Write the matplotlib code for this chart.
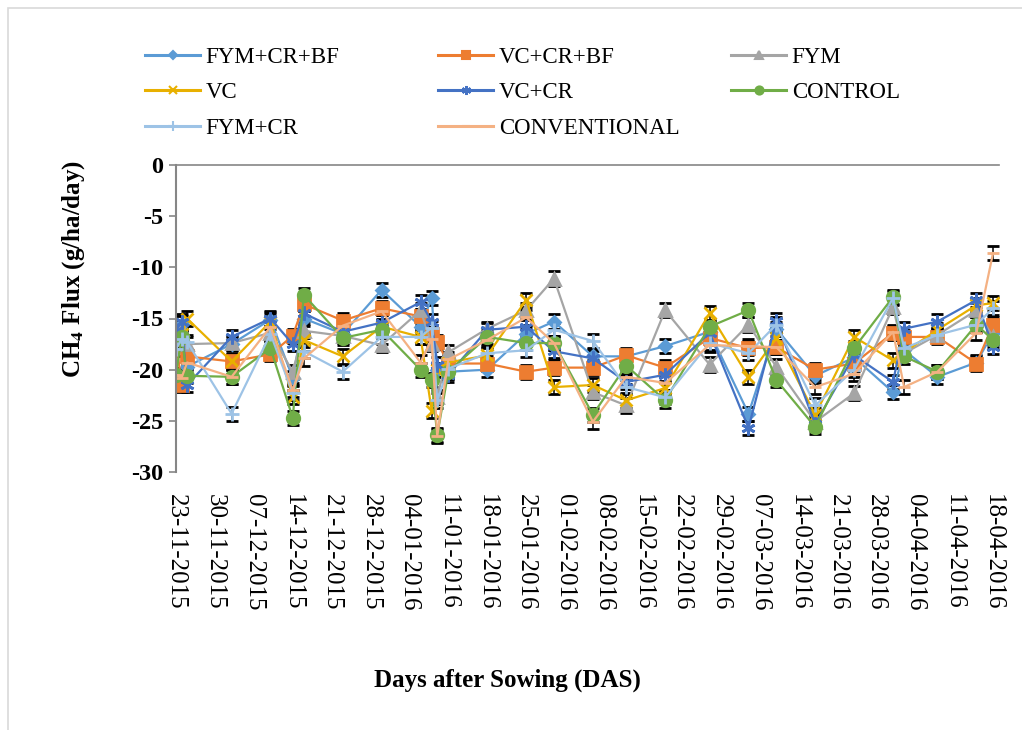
import numpy as np
import pandas as pd
import matplotlib
matplotlib.use('Agg')
import matplotlib.pyplot as plt
import matplotlib.dates as mdates
from matplotlib.lines import Line2D
from matplotlib.patches import Rectangle

# sampling dates
sample_dates = ['2015-11-23', '2015-11-24', '2015-11-25', '2015-12-03', '2015-12-10',
                '2015-12-14', '2015-12-16', '2015-12-23', '2015-12-30', '2016-01-06',
                '2016-01-08', '2016-01-09', '2016-01-11', '2016-01-18', '2016-01-25',
                '2016-01-30', '2016-02-06', '2016-02-12', '2016-02-19', '2016-02-27',
                '2016-03-05', '2016-03-10', '2016-03-17', '2016-03-24', '2016-03-31',
                '2016-04-02', '2016-04-08', '2016-04-15', '2016-04-18']

# CH4 flux (g/ha/day) per treatment
fym_cr_bf = [-16.5, -15.5, -19.7, -17.5, -15.1, -20.8, -15.0, -16.5, -12.2, -15.8,
             -13.0, -20.0, -20.2, -20.0, -16.5, -15.3, -18.7, -18.7, -17.7, -16.3,
             -24.3, -16.0, -20.6, -18.8, -22.2, -18.1, -20.7, -19.3, -16.4]
vc_cr_bf = [-17.0, -21.5, -18.7, -19.2, -18.5, -16.7, -13.6, -15.2, -14.0, -14.8,
            -16.5, -17.3, -19.4, -19.4, -20.2, -19.8, -19.8, -18.6, -19.8, -16.9,
            -17.9, -17.8, -20.0, -19.4, -16.4, -16.8, -16.8, -19.4, -15.6]
fym = [-16.8, -16.0, -17.5, -17.4, -16.4, -20.2, -16.2, -16.7, -17.6, -14.2,
       -17.5, -22.7, -18.3, -16.0, -14.2, -11.1, -22.2, -23.5, -14.2, -19.5,
       -15.6, -19.7, -25.1, -22.3, -13.9, -18.4, -16.6, -14.2, -16.8]
vc = [-17.0, -16.5, -15.0, -19.2, -15.3, -22.7, -17.1, -18.7, -15.8, -16.8,
      -24.0, -20.0, -19.3, -18.6, -13.2, -21.7, -21.5, -23.0, -21.8, -14.5,
      -20.7, -16.9, -24.4, -16.8, -19.1, -18.3, -16.1, -13.7, -13.5]
vc_cr = [-16.2, -15.3, -21.5, -16.8, -15.0, -17.5, -14.5, -16.3, -15.4, -13.4,
         -15.3, -19.5, -20.5, -16.1, -15.8, -18.2, -18.9, -21.2, -20.5, -16.4,
         -25.7, -15.2, -25.3, -18.6, -21.2, -16.0, -15.3, -13.2, -17.8]
control = [-20.5, -16.8, -20.6, -20.7, -17.9, -24.7, -12.7, -16.9, -16.1, -20.0,
           -21.0, -26.4, -20.2, -16.8, -17.4, -17.4, -24.4, -19.6, -23.0, -15.8,
           -14.2, -21.0, -25.6, -17.9, -12.9, -18.7, -20.2, -15.6, -17.1]
fym_cr = [-18.0, -17.0, -17.3, -24.3, -16.5, -22.3, -18.2, -20.2, -16.8, -16.8,
          -15.9, -23.0, -19.9, -18.4, -18.1, -16.1, -17.2, -21.7, -22.7, -17.4,
          -18.4, -15.6, -23.5, -20.0, -13.0, -17.9, -16.6, -15.6, -14.0]
conventional = [-20.5, -20.8, -19.3, -20.7, -15.8, -22.0, -18.9, -15.7, -14.3, -19.3,
                -17.0, -26.5, -19.0, -17.1, -14.9, -17.4, -25.1, -20.7, -21.3, -17.6,
                -17.7, -17.8, -21.7, -20.4, -16.3, -21.7, -20.2, -16.4, -8.6]
ERR = 0.7

names = ['FYM+CR+BF', 'VC+CR+BF', 'FYM', 'VC', 'VC+CR', 'CONTROL', 'FYM+CR', 'CONVENTIONAL']
values = [fym_cr_bf, vc_cr_bf, fym, vc, vc_cr, control, fym_cr, conventional]

colors = ['#5B9BD5', '#ED7D31', '#A5A5A5', '#E8B000', '#4472C4', '#70AD47', '#9DC3E6', '#F4B183']
markers = ['D', 's', '^', 'x', (6, 2, 0), 'o', '+', '_']
msizes = [6, 8, 8, 9, 10, 9, 10, 9]

plt.rcParams['font.family'] = ['Liberation Serif', 'DejaVu Serif']
plt.rcParams['mathtext.fontset'] = 'stix'
plt.rcParams['axes.unicode_minus'] = False

fig = plt.figure(figsize=(10.22, 7.3), dpi=100)
ax = fig.add_axes([176 / 1022, 1 - 472 / 730, (998.6 - 176) / 1022, (472 - 165) / 730])

x = pd.to_datetime(sample_dates)
for name, vals, c, m, ms in zip(names, values, colors, markers, msizes):
    ax.errorbar(x, vals, yerr=ERR, color=c, marker=m, markersize=ms, mew=2,
                linewidth=1.6, ecolor='black', elinewidth=1.1, capsize=4, capthick=1.1)

start = pd.Timestamp('2015-11-23')
ax.set_xlim(start, start + pd.Timedelta(days=148))
ax.set_ylim(-30, 0)
ax.set_yticks(np.arange(-30, 1, 5))
tick_dates = pd.date_range('2015-11-23', '2016-04-18', freq='7D')
ax.set_xticks(tick_dates)
ax.xaxis.set_major_formatter(mdates.DateFormatter('%d-%m-%Y'))
ax.tick_params(axis='x', length=0, pad=16, labelsize=18, labelrotation=-90)
for lab in ax.get_xticklabels():
    lab.set_va('top')
ax.tick_params(axis='y', length=5, color='#868686', width=1.2, labelsize=17.5, pad=4)
for lab in ax.get_yticklabels():
    lab.set_fontweight('bold')

for s in ['bottom', 'right']:
    ax.spines[s].set_visible(False)
ax.spines['left'].set_color('#868686')
ax.spines['left'].set_linewidth(1.5)
ax.spines['top'].set_color('#868686')
ax.spines['top'].set_linewidth(1.2)

ax.set_ylabel(r'CH$_\mathbf{4}$ Flux (g/ha/day)', fontsize=18, fontweight='bold')
ax.yaxis.set_label_coords(-0.108, 0.66)
fig.text(507 / 1022, 1 - 680 / 730, 'Days after Sowing (DAS)', fontsize=18,
         fontweight='bold', ha='center', va='center')

# legend in three columns
handles = [Line2D([], [], color=c, marker=m, markersize=ms * 0.65, mew=1.5, linewidth=2.2)
           for c, m, ms in zip(colors, markers, msizes)]
cols = [[0, 3, 6], [1, 4, 7], [2, 5]]
col_x = [145, 438, 731]
for idx, cx in zip(cols, col_x):
    fig.legend([handles[i] for i in idx], [names[i] for i in idx], loc='upper left',
               bbox_to_anchor=(cx / 1022, 1 - 47 / 730), frameon=False, fontsize=16.5,
               handlelength=2.4, handletextpad=0.25, labelspacing=0.62,
               borderpad=0, borderaxespad=0)

fig.add_artist(Rectangle((8 / 1022, -0.02), 1.2, 1.02 - 8 / 730, transform=fig.transFigure,
                         fill=False, edgecolor='#d9d9d9', linewidth=1.2))

fig.savefig('out.png', dpi=100)
